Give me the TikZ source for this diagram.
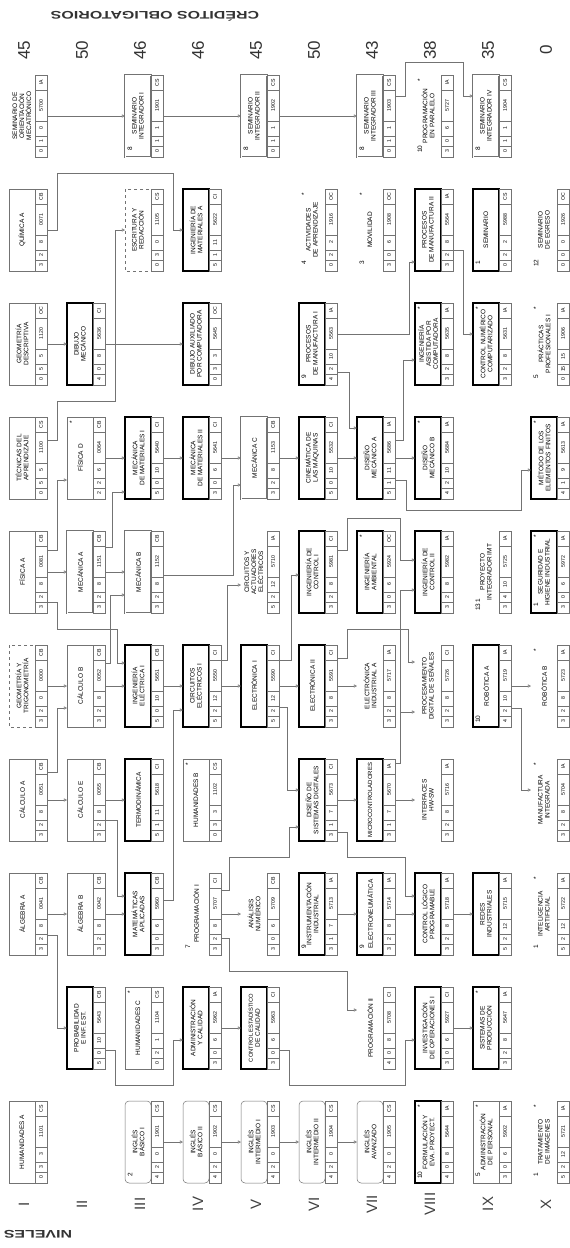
\documentclass[tikz,border=0pt]{standalone}
\usepackage{fontspec}
\setmainfont{Liberation Sans}
\usetikzlibrary{arrows.meta,calc}

% cell row of a course: credits and code
\newcommand{\celdas}[5]{%
  \node[ctxt] at (\curX+32,\curY+35.5) {#1};
  \node[ctxt] at (\curX+32,\curY+25) {#2};
  \node[ctxt] at (\curX+32,\curY+12.5) {#3};
  \node[ctxt] at (\curX+32,\curY-10.5) {#4};
  \node[ctxt] at (\curX+32,\curY-33.5) {#5};}
% style, name, level, column, title, cells, number, star
\newcommand{\curso}[8]{%
  \pgfmathsetmacro{\curX}{9+58*(#3-1)}%
  \pgfmathsetmacro{\curY}{1142-114*(#4-1)}%
  \node[caja] (#2) at (\curX+19,\curY) {};
  \node[#1] at (\curX+13,\curY) {#5};
  \draw[celda] (\curX+26,\curY-41) rectangle (\curX+38,\curY+41);
  \foreach \k in {11,21,36,67} {\draw[celda] (\curX+26,\curY+41-\k) -- (\curX+38,\curY+41-\k);}
  \celdas#6
  \node[marca] at (\curX+5,\curY+33) {#7};
  \node[marca] at (\curX+5,\curY-36) {#8};}

\begin{document}
\begin{tikzpicture}[x=1pt, y=-1pt,
  every node/.style={inner sep=0pt, outer sep=0pt},
  caja/.style={minimum width=38pt, minimum height=82pt},
  ttl/.style={rotate=90, minimum width=82pt, minimum height=26pt, align=center, fill=white, font=\fontsize{6.5}{7}\selectfont},
  tnorm/.style={ttl, draw=black!55, line width=0.5pt},
  tgrue/.style={ttl, draw=black, line width=1.5pt},
  tsin/.style={ttl},
  tdash/.style={ttl, draw=black!55, dashed, line width=0.5pt},
  tredo/.style={ttl, draw=black!55, rounded corners=4pt, line width=0.5pt},
  tdoble/.style={ttl, draw=black!55, double, double distance=1pt, line width=0.4pt},
  celda/.style={draw=black!55, line width=0.4pt},
  ctxt/.style={rotate=90, font=\fontsize{5.2}{5.2}\selectfont},
  marca/.style={rotate=90, font=\fontsize{6.5}{6.5}\selectfont},
  nivel/.style={rotate=90, font=\fontsize{15}{15}\selectfont, text=black!75},
  cred/.style={rotate=90, font=\fontsize{17}{17}\selectfont, text=black!80},
  titulo/.style={rotate=180, font=\bfseries\fontsize{11}{11}\selectfont, text=black!80},
  link/.style={draw=black!55, line width=0.5pt, -{Triangle[open, length=3.2pt, width=3.2pt]}}]
\fill[white] (0,0) rectangle (570,1248);
\useasboundingbox (0,0) rectangle (570,1248);

\node[titulo] (credtit) at (155,16) {\scalebox{1.45}[1]{CRÉDITOS OBLIGATORIOS}};
\node[titulo] (nivtit) at (38,1234) {\scalebox{1.45}[1]{NIVELES}};
\foreach \r [count=\i] in {I,II,III,IV,V,VI,VII,VIII,IX,X}
  \node[nivel] (niv\i) at ({9+58*(\i-1)+15},1204) {\r};
\foreach \c [count=\i] in {45,50,46,46,45,50,43,38,35,0}
  \node[cred] (cred\i) at ({9+58*(\i-1)+15},50) {\c};

% nivel I
\curso{tnorm}{HumA}{1}{1}{HUMANIDADES A}{{0}{3}{3}{1101}{CS}}{}{}
\curso{tnorm}{AlgA}{1}{3}{ÁLGEBRA A}{{3}{2}{8}{0041}{CB}}{}{}
\curso{tnorm}{CalA}{1}{4}{CÁLCULO A}{{3}{2}{8}{0051}{CB}}{}{}
\curso{tdash}{GeoT}{1}{5}{GEOMETRÍA Y\\TRIGONOMETRÍA}{{3}{2}{0}{0000}{CB}}{}{}
\curso{tnorm}{FisA}{1}{6}{FÍSICA A}{{3}{2}{8}{0081}{CB}}{}{}
\curso{tnorm}{TecA}{1}{7}{TÉCNICAS DEL\\APRENDIZAJE}{{0}{5}{5}{1100}{CS}}{}{}
\curso{tnorm}{GeoD}{1}{8}{GEOMETRÍA\\DESCRIPTIVA}{{0}{5}{5}{1120}{OC}}{}{}
\curso{tnorm}{QuiA}{1}{9}{QUÍMICA A}{{3}{2}{8}{0071}{CB}}{}{}
\curso{tsin}{SemO}{1}{10}{SEMINARIO DE\\ORIENTACIÓN\\MECATRÓNICO}{{0}{1}{0}{5700}{IA}}{}{}
% nivel II
\curso{tgrue}{Prob}{2}{2}{PROBABILIDAD\\E INF. EST.}{{5}{0}{10}{5643}{CB}}{}{}
\curso{tnorm}{AlgB}{2}{3}{ÁLGEBRA B}{{3}{2}{8}{0042}{CB}}{}{}
\curso{tnorm}{CalE}{2}{4}{CÁLCULO E}{{3}{2}{8}{0055}{CB}}{}{}
\curso{tnorm}{CalB}{2}{5}{CÁLCULO B}{{3}{2}{8}{0052}{CB}}{}{}
\curso{tdoble}{MecA}{2}{6}{MECÁNICA A}{{3}{2}{8}{1151}{CB}}{}{}
\curso{tnorm}{FisD}{2}{7}{FÍSICA D}{{2}{2}{6}{0064}{CB}}{}{*}
\curso{tgrue}{DibM}{2}{8}{DIBUJO\\MECÁNICO}{{4}{0}{8}{5636}{CI}}{}{}
% nivel III
\curso{tredo}{IngB1}{3}{1}{INGLÉS\\BÁSICO I}{{4}{2}{0}{1901}{CS}}{2}{}
\curso{tnorm}{HumC}{3}{2}{HUMANIDADES C}{{0}{2}{1}{1104}{CS}}{}{*}
\curso{tgrue}{MatAp}{3}{3}{MATEMÁTICAS\\APLICADAS}{{3}{0}{6}{5960}{CB}}{}{}
\curso{tgrue}{Termo}{3}{4}{TERMODINÁMICA}{{5}{1}{11}{5618}{CI}}{}{}
\curso{tgrue}{IEI}{3}{5}{INGENIERÍA\\ELÉCTRICA I}{{5}{0}{10}{5651}{CB}}{}{}
\curso{tdoble}{MecB}{3}{6}{MECÁNICA B}{{3}{2}{8}{1152}{CB}}{}{}
\curso{tgrue}{MMI}{3}{7}{MECÁNICA\\DE MATERIALES I}{{5}{0}{10}{5640}{CI}}{}{}
\curso{tdash}{EscR}{3}{9}{ESCRITURA Y\\REDACCIÓN}{{0}{3}{0}{1105}{CS}}{}{}
\curso{tdoble}{SemIa}{3}{10}{SEMINARIO\\INTEGRADOR I}{{0}{1}{1}{1901}{CS}}{8}{}
% nivel IV
\curso{tredo}{IngB2}{4}{1}{INGLÉS\\BÁSICO II}{{4}{2}{0}{1902}{CS}}{}{}
\curso{tgrue}{AdmC}{4}{2}{ADMINISTRACIÓN\\Y CALIDAD}{{3}{0}{6}{5962}{IA}}{}{}
\curso{tsin}{ProgI}{4}{3}{PROGRAMACIÓN I}{{3}{2}{8}{5707}{CI}}{7}{}
\curso{tnorm}{HumB}{4}{4}{HUMANIDADES B}{{0}{3}{3}{1102}{CS}}{}{*}
\curso{tgrue}{CEI}{4}{5}{CIRCUITOS\\ELÉCTRICOS I}{{5}{2}{12}{5550}{CI}}{}{}
\curso{tgrue}{MMII}{4}{7}{MECÁNICA\\DE MATERIALES II}{{3}{0}{6}{5641}{CI}}{}{}
\curso{tgrue}{DAC}{4}{8}{DIBUJO AUXILIADO\\POR COMPUTADORA}{{0}{3}{3}{5645}{OC}}{}{}
\curso{tgrue}{IMA}{4}{9}{INGENIERÍA DE\\MATERIALES A}{{5}{1}{11}{5622}{CI}}{}{}
% nivel V
\curso{tredo}{IngI1}{5}{1}{INGLÉS\\INTERMEDIO I}{{4}{2}{0}{1903}{CS}}{}{}
\curso{tgrue}{CEC}{5}{2}{\fontsize{5.8}{7}\selectfont CONTROL ESTADÍSTICO\\DE CALIDAD}{{3}{0}{6}{5963}{CI}}{}{}
\curso{tsin}{AnaN}{5}{3}{ANÁLISIS\\NUMÉRICO}{{3}{0}{6}{5709}{CB}}{}{}
\curso{tgrue}{EI}{5}{5}{ELECTRÓNICA I}{{5}{2}{12}{5590}{CI}}{}{}
\curso{tsin}{CyA}{5}{6}{CIRCUITOS Y\\ACTUADORES\\ELÉCTRICOS}{{5}{2}{12}{5710}{IA}}{}{}
\curso{tdoble}{MecC}{5}{7}{MECÁNICA C}{{3}{2}{8}{1153}{CB}}{}{}
\curso{tdoble}{SemIb}{5}{10}{SEMINARIO\\INTEGRADOR II}{{0}{1}{1}{1902}{CS}}{8}{}
% nivel VI
\curso{tredo}{IngI2}{6}{1}{INGLÉS\\INTERMEDIO II}{{4}{2}{0}{1904}{CS}}{}{}
\curso{tgrue}{InstI}{6}{3}{INSTRUMENTACIÓN\\INDUSTRIAL}{{3}{1}{7}{5713}{IA}}{9}{}
\curso{tgrue}{DSD}{6}{4}{DISEÑO DE\\SISTEMAS DIGITALES}{{3}{1}{7}{5673}{CI}}{}{}
\curso{tgrue}{EII}{6}{5}{ELECTRÓNICA II}{{3}{2}{8}{5591}{CI}}{}{}
\curso{tgrue}{ICI}{6}{6}{INGENIERÍA DE\\CONTROL I}{{3}{2}{8}{5981}{CI}}{}{}
\curso{tgrue}{Cin}{6}{7}{CINEMÁTICA DE\\LAS MÁQUINAS}{{5}{0}{10}{5532}{CI}}{}{}
\curso{tgrue}{PMI}{6}{8}{PROCESOS\\DE MANUFACTURA I}{{4}{2}{10}{5563}{IA}}{9}{}
\curso{tsin}{ActA}{6}{9}{ACTIVIDADES\\DE APRENDIZAJE}{{0}{2}{2}{1916}{OC}}{4}{*}
% nivel VII
\curso{tredo}{IngAv}{7}{1}{INGLÉS\\AVANZADO}{{4}{2}{0}{1905}{CS}}{}{}
\curso{tsin}{ProgII}{7}{2}{PROGRAMACIÓN II}{{4}{0}{8}{5708}{CI}}{}{}
\curso{tgrue}{Elneu}{7}{3}{ELECTRONEUMÁTICA}{{3}{2}{8}{5714}{IA}}{9}{}
\curso{tgrue}{Micro}{7}{4}{\fontsize{6}{7}\selectfont MICROCONTROLADORES}{{3}{1}{7}{5670}{IA}}{}{}
\curso{tsin}{EIA}{7}{5}{ELECTRÓNICA\\INDUSTRIAL A}{{3}{2}{8}{5717}{IA}}{}{}
\curso{tgrue}{IAmb}{7}{6}{INGENIERÍA\\AMBIENTAL}{{3}{0}{6}{5924}{OC}}{}{*}
\curso{tgrue}{DMA}{7}{7}{DISEÑO\\MECÁNICO A}{{5}{1}{11}{5686}{IA}}{}{}
\curso{tsin}{Mov}{7}{9}{MOVILIDAD}{{3}{0}{6}{1908}{OC}}{3}{*}
\curso{tdoble}{SemIc}{7}{10}{SEMINARIO\\INTEGRADOR III}{{0}{1}{1}{1903}{CS}}{8}{}
% nivel VIII
\curso{tgrue}{FEP}{8}{1}{FORMULACIÓN Y\\EVA. PROYECT.}{{4}{0}{8}{5644}{IA}}{10}{*}
\curso{tgrue}{IO}{8}{2}{INVESTIGACIÓN\\DE OPERACIONES I}{{3}{0}{6}{5927}{CI}}{}{}
\curso{tgrue}{CLP}{8}{3}{CONTROL LÓGICO\\PROGRAMABLE}{{3}{2}{8}{5718}{IA}}{}{}
\curso{tsin}{HWSW}{8}{4}{INTERFACES\\HW-SW}{{3}{2}{8}{5716}{IA}}{}{}
\curso{tsin}{PDS}{8}{5}{PROCESAMIENTO\\DIGITAL DE SEÑALES}{{3}{2}{8}{5726}{CI}}{}{}
\curso{tgrue}{ICII}{8}{6}{INGENIERÍA DE\\CONTROL II}{{3}{2}{8}{5982}{IA}}{}{}
\curso{tgrue}{DMB}{8}{7}{DISEÑO\\MECÁNICO B}{{4}{2}{10}{5684}{IA}}{}{*}
\curso{tgrue}{IAC}{8}{8}{INGENIERÍA\\ASISTIDA POR\\COMPUTADORA}{{3}{2}{8}{5635}{IA}}{}{*}
\curso{tgrue}{PMII}{8}{9}{PROCESOS\\DE MANUFACTURA II}{{3}{2}{8}{5564}{IA}}{}{}
\curso{tsin}{PPar}{8}{10}{PROGRAMACIÓN\\EN PARALELO}{{3}{0}{6}{5727}{IA}}{10}{*}
% nivel IX
\curso{tnorm}{AdmP}{9}{1}{ADMINISTRACIÓN\\DE PERSONAL}{{3}{0}{6}{5902}{IA}}{5}{*}
\curso{tgrue}{SisP}{9}{2}{SISTEMAS DE\\PRODUCCIÓN}{{3}{2}{8}{5647}{IA}}{}{*}
\curso{tgrue}{Redes}{9}{3}{REDES\\INDUSTRIALES}{{5}{2}{12}{5715}{IA}}{}{}
\curso{tgrue}{RobA}{9}{5}{ROBÓTICA A}{{4}{2}{10}{5719}{IA}}{10}{}
\curso{tsin}{PIMT}{9}{6}{PROYECTO\\INTEGRADOR IMT}{{3}{4}{10}{5725}{IA}}{13\,1}{}
\curso{tgrue}{CNC}{9}{8}{CONTROL NUMÉRICO\\COMPUTARIZADO}{{3}{2}{8}{5631}{IA}}{}{*}
\curso{tgrue}{Sem}{9}{9}{SEMINARIO}{{0}{2}{2}{5988}{CS}}{1}{}
\curso{tdoble}{SemId}{9}{10}{SEMINARIO\\INTEGRADOR IV}{{0}{1}{1}{1904}{CS}}{8}{}
% nivel X
\curso{tsin}{TrIm}{10}{1}{TRATAMIENTO\\DE IMÁGENES}{{5}{2}{12}{5721}{IA}}{1}{*}
\curso{tsin}{IntA}{10}{3}{INTELIGENCIA\\ARTIFICIAL}{{5}{2}{12}{5722}{IA}}{1}{*}
\curso{tsin}{ManI}{10}{4}{MANUFACTURA\\INTEGRADA}{{3}{2}{8}{5704}{IA}}{}{*}
\curso{tsin}{RobB}{10}{5}{ROBÓTICA B}{{3}{2}{8}{5723}{IA}}{}{*}
\curso{tgrue}{SHI}{10}{6}{SEGURIDAD E\\HIGIENE INDUSTRIAL}{{3}{0}{6}{5972}{IA}}{1}{*}
\curso{tgrue}{MEF}{10}{7}{MÉTODO DE LOS\\ELEMENTOS FINITOS}{{4}{1}{9}{5613}{IA}}{}{*}
\curso{tsin}{PrP}{10}{8}{PRÁCTICAS\\PROFESIONALES I}{{0}{15}{15}{1906}{IA}}{5}{*}
\curso{tsin}{SemE}{10}{9}{SEMINARIO\\DE EGRESO}{{0}{0}{0}{1926}{OC}}{12}{}

% seriaciones directas
\draw[link] (SemO) -- (SemIa);
\draw[link] (SemIa) -- (SemIb);
\draw[link] (SemIb) -- (SemIc);
\draw[link] (IngB1) -- (IngB2);
\draw[link] (IngB2) -- (IngI1);
\draw[link] (IngI1) -- (IngI2);
\draw[link] (IngI2) -- (IngAv);
\draw[link] (GeoD) -- (DibM);
\draw[link] (DibM) -- (DAC);
\draw[link] (FisA) -- (MecA);
\draw[link] (MecA) -- (MecB);
\draw[link] (FisD) -- (MMI);
\draw[link] (MMI) -- (MMII);
\draw[link] (MMII) -- (MecC);
\draw[link] (MecC) -- (Cin);
\draw[link] (Cin) -- (DMA);
\draw[link] (DMA) -- (DMB);
\draw[link] (AlgA) -- (AlgB);
\draw[link] (AlgB) -- (MatAp);
\draw[link] (CalA) -- (CalE);
\draw[link] (CalE) -- (Termo);
\draw[link] (GeoT) -- (CalB);
\draw[link] (CalB) -- (IEI);
\draw[link] (IEI) -- (CEI);
\draw[link] (CEI) -- (EI);
\draw[link] (EI) -- (EII);
\draw[link] (EII) -- (EIA);
\draw[link] (AdmC) -- (CEC);
\draw[link] (ProgI) -- (AnaN);
\draw[link] (InstI) -- (Elneu);
\draw[link] (Elneu) -- (CLP);
\draw[link] (CLP) -- (Redes);
\draw[link] (IO) -- (SisP);
\draw[link] (DSD) -- (Micro);
\draw[link] (Micro) -- (HWSW);
\draw[link] (RobA) -- (RobB);

% seriaciones con quiebres
\draw[link] ($(SemIc.east)+(0,-20)$) -- (405,96) |- (463,62) |- ($(SemId.west)+(0,-20)$);
\draw[link] (QuiA.east) -- (57,230) |- (173,173) |- (IMA.west);
\draw[link] ($(TecA.east)+(0,-18)$) -- (57,440) |- (115,401) |- (EscR.west);
\draw[link] ($(FisA.east)+(0,-22)$) -- (57,550) |- ($(FisD.west)+(0,22)$);
\draw[link] ($(FisA.east)+(0,30)$) -- (57,602) |- (117,629) |- ($(IEI.west)+(0,-23)$);
\draw[link] ($(AlgA.east)+(0,21)$) -- (57,935) |- (Prob.west);
\draw[link] ($(CalA.east)+(0,-28)$) -- (57,772) |- ($(CalB.west)+(0,22)$);
\draw[link] ($(CalB.east)+(0,-23)$) -- (110,663) |- ($(MecB.west)+(0,23)$);
\draw[link] ($(MecA.east)+(0,-25)$) -- (112,547) |- ($(MMI.west)+(0,34)$);
\draw[link] ($(CalE.east)+(0,20)$) -- (117,820) |- ($(MatAp.west)+(0,-18)$);
\draw[link] ($(Prob.east)+(0,22)$) -- (115,1050) |- (173,1085) |- ($(AdmC.west)+(0,12)$);
\draw[link] ($(MatAp.east)+(0,-14)$) -- (173,900) |- ($(CEI.west)+(0,24)$);
\draw[link] ($(ProgI.east)+(0,24)$) -- (229,938) |- (347,971) |- ($(ProgII.west)+(0,-18)$);
\draw[link] ($(ProgI.east)+(0,-24)$) -- (229,890) |- (289,857) |- ($(DSD.west)+(0,27)$);
\draw[link] ($(CEC.east)+(0,22)$) -- (289,1050) |- (405,1085) |- ($(IO.west)+(0,12)$);
\draw[link] ($(CEI.east)+(0,-26)$) -- (227,660) |- ($(CyA.west)+(0,13)$);
\draw[link] ($(MecB.east)+(0,3)$) -- (233,575) |- ($(MecC.west)+(0,27)$);
\draw[link] ($(EI.east)+(0,21)$) -- (287,707) |- ($(DSD.west)+(0,-10)$);
\draw[link] ($(EI.east)+(0,-26)$) -- (291,660) |- ($(ICI.west)+(0,3)$);
\draw[link] ($(DSD.east)+(0,32)$) -- (347,832) |- (405,857) |- ($(CLP.west)+(0,-18)$);
\draw[link] ($(EII.east)+(0,-28)$) -- (347,658) |- (408,629) |- ($(PDS.west)+(0,-24)$);
\draw[link] ($(ICI.east)+(0,-22)$) -- (347,550) |- (400,518) |- ($(ICII.west)+(0,-12)$);
\draw[link] ($(Micro.east)+(0,-37)$) -- (400,763) |- ($(ICII.west)+(0,18)$);
\draw[link] ($(Micro.east)+(0,-37)$) -- (400,763) |- ($(PDS.west)+(0,26)$);
\draw[link] ($(PMI.east)+(0,28)$) -- (349,372) |- ($(DMA.west)+(0,-30)$);
\draw[link] ($(PMI.east)+(0,-10)$) -- (409,334) |- ($(PMII.west)+(0,32)$);
\draw[link] ($(DMA.east)+(0,-18)$) -- (403,440) |- ($(IAC.west)+(0,16)$);
\draw[link] ($(DMA.east)+(0,22)$) -- (406,480) |- (521,510) |- ($(MEF.west)+(0,12)$);
\draw[link] ($(PMII.east)+(0,20)$) -- (463,250) |- ($(CNC.west)+(0,-10)$);
\draw[link] ($(RobA.east)+(0,22)$) -- (521,708) |- ($(ManI.west)+(0,-10)$);
\end{tikzpicture}
\end{document}
